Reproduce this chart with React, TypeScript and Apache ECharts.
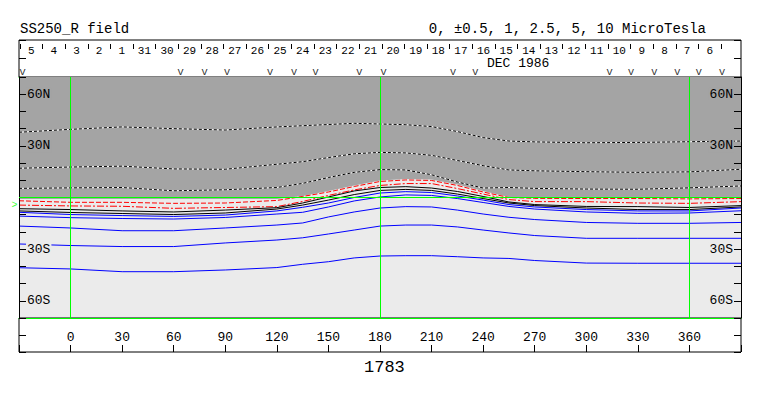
import React, { useEffect, useRef } from 'react';
import * as echarts from 'echarts';

// Carrington longitude sample points (degrees)
const lons = [-30, 0, 30, 60, 90, 120, 135, 150, 165, 180, 195, 210, 225, 240, 255, 270, 300, 330, 360, 390];

// Contour latitudes (degrees) at each longitude, top to bottom
const dotted1 = [37.9, 39.6, 41.0, 40.0, 39.2, 41.0, 41.7, 42.4, 43.1, 42.7, 42.3, 41.2, 38.3, 34.8, 32.8, 32.3, 31.8, 32.0, 32.4, 32.8];
const dotted2 = [17.0, 17.7, 18.2, 16.6, 16.4, 19.3, 20.8, 23.2, 25.4, 26.2, 25.9, 24.5, 21.5, 18.5, 16.0, 15.5, 15.0, 14.6, 14.9, 16.4];
const dotted3 = [5.3, 5.6, 5.8, 3.9, 4.5, 5.8, 8.2, 11.6, 14.6, 16.2, 16.0, 13.2, 9.0, 5.5, 5.8, 5.3, 4.9, 4.8, 5.6, 6.7];
const redDash = [-1.9, -2.8, -2.8, -3.4, -3.2, -1.7, 0.6, 3.2, 6.4, 9.3, 10.2, 9.9, 7.0, 3.2, 0.0, -0.5, -0.6, -0.6, -0.8, -0.6];
const redDashDot = [-4.4, -4.9, -5.1, -6.3, -5.8, -5.3, -2.3, 1.2, 4.4, 7.0, 8.1, 8.1, 5.2, 2.0, -1.2, -2.4, -2.4, -3.2, -3.4, -2.4];
const black1 = [-6.5, -7.0, -7.8, -8.4, -7.3, -5.9, -3.2, 0.3, 3.8, 5.8, 6.3, 5.5, 3.5, 0.6, -2.6, -4.1, -5.2, -5.3, -5.8, -4.7];
const black2 = [-7.8, -8.7, -9.3, -9.9, -9.0, -6.7, -4.4, -1.5, 1.7, 4.1, 4.7, 4.1, 2.0, -0.6, -3.2, -4.7, -6.1, -7.0, -7.0, -5.5];
const blue1 = [-8.6, -9.9, -10.5, -11.0, -10.2, -7.8, -5.7, -3.2, 0.0, 2.6, 3.4, 2.9, 0.9, -1.5, -4.1, -5.5, -7.0, -7.8, -7.8, -6.1];
const blue2 = [-10.8, -11.7, -12.2, -12.5, -11.6, -9.6, -8.6, -5.5, -2.0, 0.3, 1.5, 1.2, -0.6, -2.9, -5.2, -6.7, -8.4, -9.2, -9.0, -7.7];
const blue3 = [-16.6, -17.7, -19.3, -19.3, -17.7, -16.0, -14.8, -11.3, -8.4, -6.1, -5.3, -5.5, -7.3, -9.6, -11.5, -12.8, -14.5, -15.0, -15.0, -14.5];
const blue4 = [-27.0, -27.9, -28.5, -28.5, -26.4, -24.7, -23.4, -21.2, -18.9, -16.6, -16.0, -16.0, -17.1, -18.9, -20.6, -22.1, -23.7, -23.7, -23.7, -23.7];
const blue5 = [-40.8, -41.5, -43.1, -43.1, -42.1, -40.7, -38.8, -37.3, -35.1, -34.0, -33.8, -33.8, -34.4, -35.1, -35.4, -36.6, -38.1, -38.2, -38.2, -38.2];
// boundary of the dark (outward polarity) region
const shadeEdge = [-0.9, -0.9, -0.9, -0.9, -0.9, -0.9, 0.9, 3.8, 7.0, 9.9, 10.8, 10.5, 7.6, 3.8, 0.3, -0.3, -0.3, -0.3, -0.3, -0.3];

// Day-of-month labels along the top strip (time runs right to left)
const dayLabels = ['5', '4', '3', '2', '1', '31', '30', '29', '28', '27', '26', '25', '24', '23', '22', '21', '20', '19', '18', '17', '16', '15', '14', '13', '12', '11', '10', '9', '8', '7', '6'];
// "v" observation marks (longitude)
const passMarks = [-28, 64, 78, 91, 116, 130, 142.5, 168, 182, 222.5, 235.5, 313.5, 326, 339.5, 353, 365.5, 379];
// Longitude reference lines and equator
const refLons = [0, 180, 360];
const latLabels: Record<string, string> = { '60': '60N', '30': '30N', '-30': '30S', '-60': '60S' };
const sideMarkLat = -4.4;

const FONT = '"Liberation Mono", "DejaVu Sans Mono", monospace';
const GREEN = '#00ff00';

function pairs(ys: number[]) {
  return lons.map((x, i) => [x, ys[i]]);
}

export default function App() {
  const ref = useRef<HTMLDivElement>(null);
  useEffect(() => {
    if (!ref.current) return;
    const chart = echarts.init(ref.current, null, { renderer: 'svg' });

    const lineSeries = (name: string, ys: number[], color: string, type: any, z = 2, width = 1) => ({
      name,
      type: 'line',
      xAxisIndex: 0,
      yAxisIndex: 0,
      data: pairs(ys),
      showSymbol: false,
      symbol: 'none',
      silent: true,
      z,
      lineStyle: { color, width, type },
    });

    const latAxis = (position: 'left' | 'right') => ({
      gridIndex: 0,
      type: 'value',
      min: -70,
      max: 70,
      interval: 10,
      position,
      z: 4,
      axisLine: { show: true, onZero: false, lineStyle: { color: '#000', width: 1 } },
      axisTick: { show: true, inside: true, length: 7, lineStyle: { color: '#000' } },
      splitLine: { show: false },
      axisLabel: {
        show: true,
        inside: true,
        margin: 7,
        formatter: (v: number) => {
          const t = latLabels[String(v)];
          if (!t) return '';
          return v > 0 ? '{n|' + t + '}' : '{s|' + t + '}';
        },
        rich: {
          n: { backgroundColor: '#a4a4a4', fontFamily: FONT, fontSize: 13, color: '#000', padding: [0, 1] },
          s: { backgroundColor: '#ebebeb', fontFamily: FONT, fontSize: 13, color: '#000', padding: [0, 1] },
        },
      },
    });

    const stripY = (gridIndex: number, position: 'left' | 'right') => ({
      gridIndex,
      type: 'value',
      min: 0,
      max: 2,
      interval: 1,
      position,
      axisLine: { show: false, onZero: false },
      axisTick: { show: true, inside: true, length: 7, lineStyle: { color: '#000' } },
      axisLabel: { show: false },
      splitLine: { show: false },
    });

    const option: any = {
      animation: false,
      backgroundColor: '#ffffff',
      title: [
        { text: 'SS250_R field', left: 15, top: 17, textStyle: { fontFamily: FONT, fontSize: 14, fontWeight: 'normal', color: '#000' } },
        { text: '0, \u00b10.5, 1, 2.5, 5, 10 MicroTesla', right: 52, top: 17, textStyle: { fontFamily: FONT, fontSize: 14, fontWeight: 'normal', color: '#000' } },
        { text: 'DEC 1986', left: 482, top: 52, textStyle: { fontFamily: FONT, fontSize: 13, fontWeight: 'normal', color: '#000' } },
        { text: '1783', left: 359, top: 354, textStyle: { fontFamily: FONT, fontSize: 17, fontWeight: 'normal', color: '#000' } },
      ],
      grid: [
        { left: 19, top: 77, width: 722, height: 241, show: true, backgroundColor: '#ebebeb', borderWidth: 0 },
        { left: 19, top: 40, width: 722, height: 37, show: true, backgroundColor: 'transparent', borderColor: '#000', borderWidth: 1 },
        { left: 19, top: 318, width: 722, height: 34, show: true, backgroundColor: 'transparent', borderColor: '#000', borderWidth: 1 },
        { left: 20, top: 44, width: 701, height: 33, show: false },
      ],
      xAxis: [
        { gridIndex: 0, type: 'value', min: -30, max: 390, position: 'bottom', axisLine: { show: true, onZero: false, lineStyle: { color: GREEN, width: 1 } }, axisTick: { show: false }, axisLabel: { show: false }, splitLine: { show: false } },
        { gridIndex: 0, type: 'value', min: -30, max: 390, position: 'top', axisLine: { show: true, onZero: false, lineStyle: { color: GREEN, width: 1 } }, axisTick: { show: false }, axisLabel: { show: false }, splitLine: { show: false } },
        { gridIndex: 1, type: 'value', min: -30, max: 390, show: false },
        {
          gridIndex: 2, type: 'value', min: -30, max: 390, interval: 30, position: 'bottom',
          axisLine: { show: false, onZero: false },
          axisTick: { show: true, inside: true, length: 7, lineStyle: { color: '#000' } },
          axisLabel: {
            show: true, inside: true, margin: 8, color: '#000', fontFamily: FONT, fontSize: 13,
            formatter: (v: number) => (v < 0 || v > 360 ? '' : String(v)),
          },
          splitLine: { show: false },
        },
        {
          gridIndex: 3, type: 'category', data: dayLabels, position: 'top', boundaryGap: true,
          axisLine: { show: false, onZero: false },
          axisTick: { show: true, inside: true, length: 5, interval: 0, lineStyle: { color: '#000' } },
          axisLabel: { show: true, inside: true, margin: 1, interval: 0, color: '#000', fontFamily: FONT, fontSize: 11 },
          splitLine: { show: false },
        },
      ],
      yAxis: [
        latAxis('left'),
        latAxis('right'),
        stripY(1, 'left'),
        stripY(1, 'right'),
        stripY(2, 'left'),
        stripY(2, 'right'),
        { gridIndex: 3, type: 'value', min: 0, max: 1, show: false },
      ],
      series: [
        {
          name: 'shade', type: 'line', xAxisIndex: 0, yAxisIndex: 0, data: pairs(shadeEdge),
          showSymbol: false, symbol: 'none', silent: true, z: 1,
          lineStyle: { width: 0, color: '#a4a4a4' },
          areaStyle: { color: '#a4a4a4', origin: 'end', opacity: 1 },
        },
        lineSeries('d1w', dotted1, '#ffffff', 'solid'),
        lineSeries('d1', dotted1, '#000000', [3, 2]),
        lineSeries('d2w', dotted2, '#ffffff', 'solid'),
        lineSeries('d2', dotted2, '#000000', [3, 2]),
        lineSeries('d3w', dotted3, '#ffffff', 'solid'),
        lineSeries('d3', dotted3, '#000000', [3, 2]),
        lineSeries('r1', redDash, '#ff0000', [5, 2]),
        lineSeries('r2', redDashDot, '#ff0000', [7, 2, 2, 2]),
        lineSeries('k1', black1, '#000000', 'solid'),
        lineSeries('k2', black2, '#000000', 'solid'),
        lineSeries('b1', blue1, '#0000ff', 'solid'),
        lineSeries('b2', blue2, '#0000ff', 'solid'),
        lineSeries('b3', blue3, '#0000ff', 'solid'),
        lineSeries('b4', blue4, '#0000ff', 'solid'),
        lineSeries('b5', blue5, '#0000ff', 'solid'),
        {
          name: 'refs', type: 'line', xAxisIndex: 0, yAxisIndex: 0, data: [], z: 5, silent: true,
          markLine: {
            silent: true, symbol: 'none', animation: false,
            label: { show: false },
            lineStyle: { color: GREEN, width: 1, type: 'solid' },
            data: [...refLons.map((x) => ({ xAxis: x })), { yAxis: 0 }],
          },
        },
        {
          name: 'side', type: 'scatter', xAxisIndex: 0, yAxisIndex: 0, clip: false, silent: true,
          data: [[-30, sideMarkLat]], symbolSize: 1, itemStyle: { color: 'rgba(0,0,0,0)' },
          label: { show: true, formatter: '>', position: 'left', distance: 1, color: GREEN, fontFamily: FONT, fontSize: 10 },
        },
        {
          name: 'marks', type: 'scatter', xAxisIndex: 2, yAxisIndex: 2, silent: true,
          data: passMarks.map((l) => [l, 0.25]), symbolSize: 1, itemStyle: { color: 'rgba(0,0,0,0)' },
          label: { show: true, formatter: 'v', position: 'inside', color: '#000', fontFamily: FONT, fontSize: 11 },
        },
      ],
    };
    chart.setOption(option);
    return () => chart.dispose();
  }, []);
  return <div ref={ref} style={{ position: 'absolute', left: 0, top: 0, width: 763, height: 396 }} />;
}
